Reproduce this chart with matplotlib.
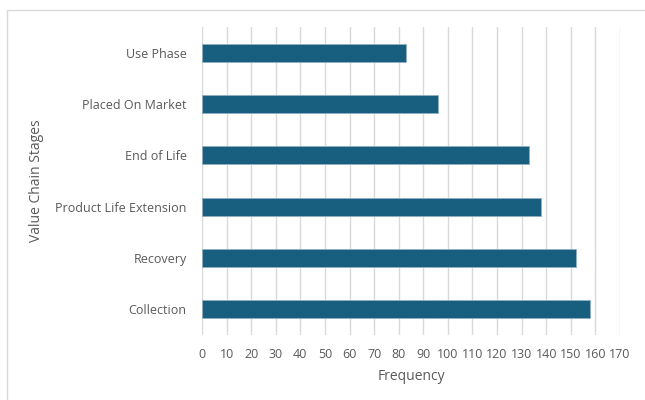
import matplotlib.pyplot as plt
from matplotlib.lines import Line2D
import numpy as np

# Data (bottom to top as drawn)
stages = ['Collection', 'Recovery', 'Product Life Extension',
          'End of Life', 'Placed On Market', 'Use Phase']
freq = [158, 152, 138, 133, 96, 83]
xticks = list(range(0, 171, 10))

plt.rcParams['font.family'] = ['Open Sans', 'DejaVu Sans']
text_col = '#595959'

fig = plt.figure(figsize=(6.45, 4.0), dpi=100)
ax = fig.add_axes([202 / 645, 1 - 335 / 400, 418 / 645, (335 - 27) / 400])

y = np.arange(len(stages))
ax.barh(y, freq, height=0.35, color='#175e7f', edgecolor='#8fb0c4',
        linewidth=0.6, zorder=3)

ax.set_xlim(0, 170)
ax.set_ylim(-0.5, len(stages) - 0.5)
ax.set_xticks(xticks)
ax.set_xticklabels([str(t) for t in xticks])
ax.set_yticks(y)
ax.set_yticklabels(stages)
ax.grid(axis='x', color='#d9d9d9', linewidth=1, zorder=0)
ax.grid(axis='y', visible=False)
for s in ax.spines.values():
    s.set_visible(False)
ax.tick_params(length=0, labelsize=9, colors=text_col)
ax.tick_params(axis='x', pad=9)
ax.tick_params(axis='y', pad=11)

ax.set_xlabel('Frequency', fontsize=10, color=text_col, labelpad=6)
ax.set_ylabel('Value Chain Stages', fontsize=10, color=text_col, labelpad=8)

# chart frame (top and left edges visible)
fig.add_artist(Line2D([7 / 645, 7 / 645, 1.0], [0.0, 1 - 10 / 400, 1 - 10 / 400],
                      transform=fig.transFigure, color='#d9d9d9', linewidth=1))

fig.savefig('out.png', dpi=100)
